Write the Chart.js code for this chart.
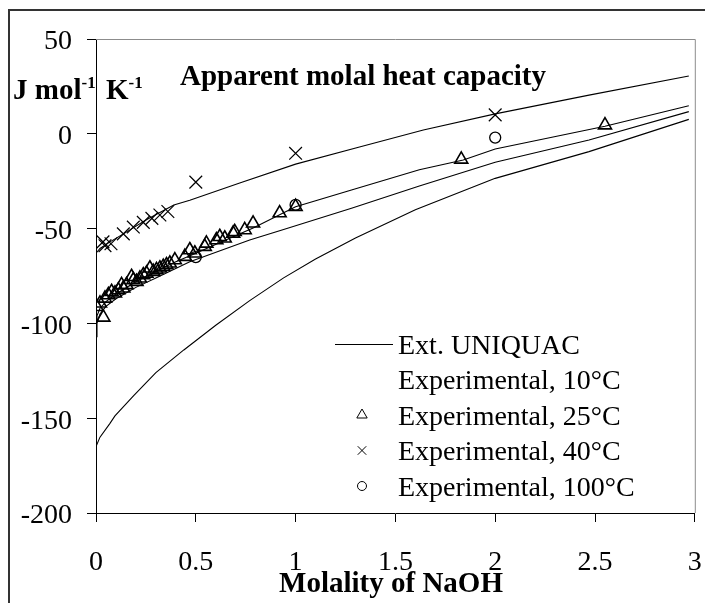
<!DOCTYPE html>
<html>
<head>
<meta charset="utf-8">
<script src="https://cdn.jsdelivr.net/npm/chart.js@4.4.1/dist/chart.umd.min.js"></script>
<style>
  html, body { margin: 0; padding: 0; background: #fff; }
</style>
</head>
<body>
<canvas id="chart" width="705" height="603"></canvas>
<script>
"use strict";

// Ext. UNIQUAC model curves (molality, J mol-1 K-1)
const modelA_m  = [0, 0.02, 0.07, 0.15, 0.25, 0.39, 0.47, 0.72, 1.0, 1.32, 1.64, 2.0, 2.47, 2.97];
const modelA_cp = [-63, -60.5, -57, -52, -45.5, -37.6, -35, -26, -16, -7, 2, 10.5, 20.4, 30.5];

const modelB_m  = [0, 0.005, 0.02, 0.05, 0.1, 0.2, 0.3, 0.4, 0.5, 0.65, 0.79, 1.0, 1.28, 1.62, 1.84, 2.0, 2.55, 2.97];
const modelB_cp = [-99, -96, -92, -88.5, -84.5, -78, -72.5, -67.5, -63, -56, -49.5, -38.5, -29.6, -19, -13.8, -8, 4, 14.8];

const modelC_m  = [0, 0.005, 0.02, 0.05, 0.1, 0.2, 0.3, 0.47, 0.77, 0.94, 1.28, 1.62, 2.0, 2.47, 2.97];
const modelC_cp = [-107, -100, -95, -91, -87, -81, -76, -67.5, -56, -50.5, -39.3, -27.5, -15, -3.3, 11.7];

const modelD_m  = [0, 0.02, 0.07, 0.095, 0.19, 0.3, 0.44, 0.6, 0.77, 0.94, 1.1, 1.3, 1.6, 2.0, 2.47, 2.97];
const modelD_cp = [-165, -160, -152.7, -148.8, -138, -126, -114, -101, -88, -76, -66, -55, -40, -23.5, -9.4, 7.6];

// experimental points
const exp10_m  = [];
const exp10_cp = [];

const exp25_m  = [0.003, 0.02, 0.037, 0.045, 0.062, 0.078, 0.095, 0.112, 0.128, 0.137, 0.153, 0.178, 0.187, 0.203,
                  0.22, 0.237, 0.253, 0.27, 0.287, 0.303, 0.32, 0.337, 0.353, 0.37, 0.395, 0.445, 0.47, 0.495,
                  0.545, 0.553, 0.603, 0.62, 0.645, 0.687, 0.695, 0.745, 0.787, 0.92, 1.0, 1.83, 2.55];
const exp25_cp = [-91.2, -89.4, -96.8, -86.8, -85, -83.3, -84.1, -82.4, -79.7, -81.5, -79.7, -75.4, -77.1, -78,
                  -76.2, -74.5, -73.6, -70.9, -72.7, -71.8, -70.9, -70.1, -69.2, -68.3, -66.6, -64.8, -61.3, -63,
                  -59.5, -57.8, -56, -54.3, -55.1, -52.5, -51.7, -50.7, -47.2, -41.8, -38.4, -13.5, 4.6];

const exp40_m  = [0.035, 0.045, 0.075, 0.137, 0.187, 0.237, 0.28, 0.32, 0.36, 0.5, 1.0, 2.0];
const exp40_cp = [-57, -59, -58, -52.8, -49.2, -46.7, -44.6, -42.8, -41, -25.5, -10.3, 10];

const exp100_m  = [0.5, 1.0, 2.0];
const exp100_cp = [-65, -37.5, -2];

const xTicks = [0, 0.5, 1, 1.5, 2, 2.5, 3];
const yTicks = [-200, -150, -100, -50, 0, 50];

const legendLabels = ["Ext. UNIQUAC", "Experimental, 10°C", "Experimental, 25°C",
                      "Experimental, 40°C", "Experimental, 100°C"];

const serif = '"Liberation Serif", "Times New Roman", serif';

function toPoints(xs, ys) {
    return xs.map((x, i) => ({ x: x, y: ys[i] }));
}

function modelSet(xs, ys) {
    return {
        data: toPoints(xs, ys),
        showLine: true,
        borderColor: "#000",
        borderWidth: 1.1,
        pointRadius: 0,
        tension: 0
    };
}

function markerSet(xs, ys, style, radius, width) {
    return {
        data: toPoints(xs, ys),
        showLine: false,
        pointStyle: style,
        pointRadius: radius,
        borderColor: "#000",
        backgroundColor: "rgba(0,0,0,0)",
        borderWidth: width
    };
}

function drawMarker(ctx, style, x, y, r) {
    ctx.beginPath();
    if (style === "triangle") {
        ctx.moveTo(x, y - r);
        ctx.lineTo(x + r * 0.866, y + r * 0.5);
        ctx.lineTo(x - r * 0.866, y + r * 0.5);
        ctx.closePath();
    } else if (style === "crossRot") {
        const d = r * 0.707;
        ctx.moveTo(x - d, y - d);
        ctx.lineTo(x + d, y + d);
        ctx.moveTo(x - d, y + d);
        ctx.lineTo(x + d, y - d);
    } else if (style === "circle") {
        ctx.arc(x, y, r, 0, Math.PI * 2);
    }
    ctx.stroke();
}

const decorations = {
    id: "decorations",
    beforeDatasetsDraw(chart) {
        const { ctx, chartArea: a } = chart;
        ctx.save();
        ctx.strokeStyle = "#8c8c8c";
        ctx.lineWidth = 1;
        ctx.beginPath();
        ctx.moveTo(a.left, a.top + 0.5);
        ctx.lineTo(a.right + 0.5, a.top + 0.5);
        ctx.lineTo(a.right + 0.5, a.bottom);
        ctx.stroke();
        ctx.restore();
    },
    afterDraw(chart) {
        const ctx = chart.ctx;
        ctx.save();

        // outer frame
        ctx.strokeStyle = "#333";
        ctx.lineWidth = 2;
        ctx.beginPath();
        ctx.moveTo(9, 603);
        ctx.lineTo(9, 10);
        ctx.lineTo(705, 10);
        ctx.stroke();

        ctx.fillStyle = "#000";
        ctx.textBaseline = "alphabetic";

        // title inside plot
        ctx.font = "bold 29px " + serif;
        ctx.textAlign = "left";
        ctx.fillText("Apparent molal heat capacity", 180, 85);

        // y unit label with superscripts
        ctx.fillText("J mol", 13, 99);
        let x = 13 + ctx.measureText("J mol").width;
        ctx.font = "bold 17px " + serif;
        ctx.fillText("-1", x, 88);
        ctx.font = "bold 29px " + serif;
        ctx.fillText("K", 106, 99);
        x = 106 + ctx.measureText("K").width;
        ctx.font = "bold 17px " + serif;
        ctx.fillText("-1", x, 88);

        // x axis title
        ctx.font = "bold 29px " + serif;
        ctx.textAlign = "center";
        ctx.fillText("Molality of NaOH", 391, 592);

        // legend
        const styles = ["line", null, "triangle", "crossRot", "circle"];
        ctx.textAlign = "left";
        ctx.font = "28px " + serif;
        ctx.strokeStyle = "#000";
        ctx.lineWidth = 1;
        legendLabels.forEach((label, i) => {
            const cy = 344 + i * 35.5;
            ctx.fillText(label, 398, cy + 9.5);
            if (styles[i] === "line") {
                ctx.beginPath();
                ctx.moveTo(335, cy + 0.5);
                ctx.lineTo(393, cy + 0.5);
                ctx.stroke();
            } else if (styles[i]) {
                drawMarker(ctx, styles[i], 362, cy, styles[i] === "circle" ? 4.5 : 6);
            }
        });

        ctx.restore();
    }
};

const chartContext = document.getElementById("chart");

const myChart = new Chart(chartContext, {
    type: "scatter",
    data: {
        datasets: [
            markerSet(exp100_m, exp100_cp, "circle", 5.5, 1.3),
            markerSet(exp40_m, exp40_cp, "crossRot", 9, 1.2),
            markerSet(exp25_m, exp25_cp, "triangle", 7.5, 1.6),
            markerSet(exp10_m, exp10_cp, "circle", 5, 1),
            modelSet(modelA_m, modelA_cp),
            modelSet(modelB_m, modelB_cp),
            modelSet(modelC_m, modelC_cp),
            modelSet(modelD_m, modelD_cp)
        ]
    },
    options: {
        responsive: false,
        animation: false,
        layout: { padding: { top: 39, right: 9, left: 0, bottom: 0 } },
        plugins: {
            legend: { display: false },
            tooltip: { enabled: false }
        },
        scales: {
            x: {
                type: "linear",
                min: 0,
                max: 3,
                afterFit: (scale) => {
                    scale.height = 90;
                    scale.paddingLeft = 0;
                    scale.paddingRight = 0;
                },
                afterBuildTicks: (scale) => { scale.ticks = xTicks.map((v) => ({ value: v })); },
                ticks: {
                    color: "#000",
                    font: { family: serif, size: 28 },
                    padding: 24,
                    maxRotation: 0,
                    callback: (v) => String(v)
                },
                grid: { drawOnChartArea: false, drawTicks: true, tickLength: 9, color: "#000" },
                border: { color: "#000", width: 1 }
            },
            y: {
                type: "linear",
                min: -200,
                max: 50,
                afterFit: (scale) => {
                    scale.width = 96;
                    scale.paddingTop = 0;
                    scale.paddingBottom = 0;
                },
                afterBuildTicks: (scale) => { scale.ticks = yTicks.map((v) => ({ value: v })); },
                ticks: {
                    color: "#000",
                    font: { family: serif, size: 28 },
                    padding: 15,
                    labelOffset: 3,
                    callback: (v) => String(v)
                },
                grid: { drawOnChartArea: false, drawTicks: true, tickLength: 9, color: "#000" },
                border: { color: "#000", width: 1 }
            }
        }
    },
    plugins: [decorations]
});
</script>
</body>
</html>
